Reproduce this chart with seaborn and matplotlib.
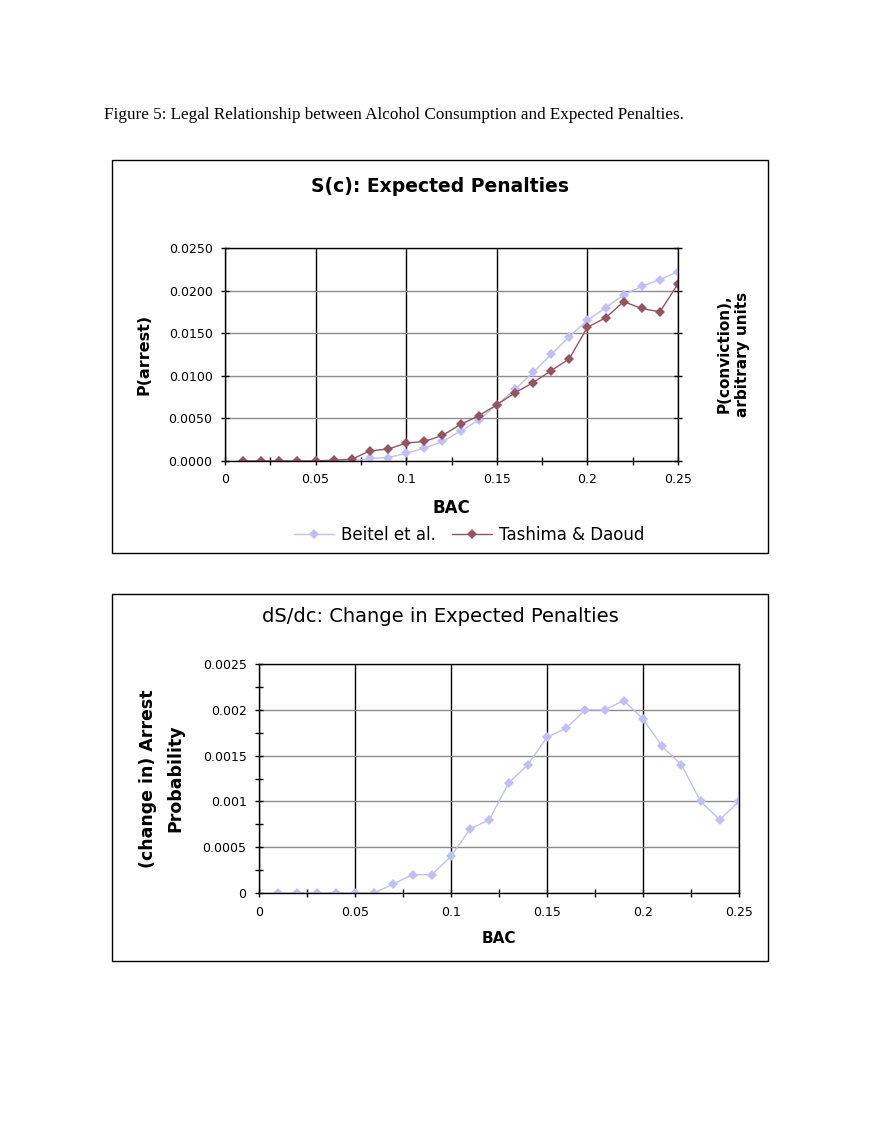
import numpy as np
import pandas as pd
import seaborn as sns
import matplotlib.pyplot as plt
from matplotlib.patches import Rectangle
from matplotlib.ticker import MultipleLocator, FuncFormatter

# blood alcohol levels
bac = [0.01, 0.02, 0.03, 0.04, 0.05, 0.06, 0.07, 0.08, 0.09, 0.10, 0.11, 0.12, 0.13,
       0.14, 0.15, 0.16, 0.17, 0.18, 0.19, 0.20, 0.21, 0.22, 0.23, 0.24, 0.25]

beitel = [0.0, 0.0, 0.0, 0.0, 0.0, 0.0, 0.0, 0.0003, 0.0004, 0.0009, 0.0015, 0.0023, 0.0035,
          0.0048, 0.0066, 0.0084, 0.0104, 0.0125, 0.0146, 0.0165, 0.0180, 0.0195, 0.0205,
          0.0213, 0.0222]
tashima = [0.0, 0.0, 0.0, 0.0, 0.0, 0.0001, 0.0002, 0.0012, 0.0014, 0.0021, 0.0023, 0.0030,
           0.0043, 0.0053, 0.0066, 0.0080, 0.0092, 0.0106, 0.0120, 0.0157, 0.0168, 0.0187,
           0.0179, 0.0175, 0.0208]
dsdc = [0.0, 0.0, 0.0, 0.0, 0.0, 0.0, 0.0001, 0.0002, 0.0002, 0.0004, 0.0007, 0.0008, 0.0012,
        0.0014, 0.0017, 0.0018, 0.0020, 0.0020, 0.0021, 0.0019, 0.0016, 0.0014, 0.0010,
        0.0008, 0.0010]

series_names = ["Beitel et al.", "Tashima & Daoud"]
x_ticks = [0, 0.05, 0.1, 0.15, 0.2, 0.25]

BLUE = "#c0c0f6"
BROWN = "#955560"

sns.set_style("white")
plt.rcParams['font.family'] = ['DejaVu Sans']
for k in ['text.color', 'axes.labelcolor', 'xtick.color', 'ytick.color']:
    plt.rcParams[k] = 'black'

W, H = 880, 1139
fig = plt.figure(figsize=(W / 100, H / 100), dpi=100)


def fx(px):
    return px / W


def fy(py):
    return 1 - py / H


# caption
fig.text(fx(104), fy(115), "Figure 5: Legal Relationship between Alcohol Consumption and Expected Penalties.",
         family=['Liberation Serif', 'DejaVu Serif'], fontsize=12.3, ha='left', va='center')

# chart frames
for top, bot in [(160, 553), (594, 961)]:
    fig.add_artist(Rectangle((fx(112), fy(bot)), fx(768) - fx(112), fy(top) - fy(bot),
                             transform=fig.transFigure, fill=False, edgecolor='black', lw=1.0))


def style_axes(ax, ymax, ymajor, yminor=None, right_ticks=False):
    ax.set_xlim(0, 0.25)
    ax.set_ylim(0, ymax)
    ax.set_xticks(x_ticks)
    ax.xaxis.set_minor_locator(MultipleLocator(0.025))
    ax.yaxis.set_major_locator(MultipleLocator(ymajor))
    if yminor:
        ax.yaxis.set_minor_locator(MultipleLocator(yminor))
    ax.xaxis.set_major_formatter(FuncFormatter(lambda v, p: f"{v:g}"))
    ax.grid(axis='x', which='major', color='black', lw=1.0)
    ax.grid(axis='y', which='major', color='#8c8c8c', lw=1.0)
    ax.set_axisbelow(True)
    for s in ax.spines.values():
        s.set_color('black')
        s.set_linewidth(1.0)
    ax.tick_params(which='both', direction='inout', length=6, width=1, color='black',
                   labelsize=9, pad=6, left=True, bottom=True, right=right_ticks)


# ---------- top chart: S(c) ----------
ax1 = fig.add_axes([fx(225), fy(461), fx(678) - fx(225), fy(248) - fy(461)])
df = pd.DataFrame({
    "BAC": bac * 2,
    "value": beitel + tashima,
    "source": [series_names[0]] * len(bac) + [series_names[1]] * len(bac),
})
sns.lineplot(data=df, x="BAC", y="value", hue="source", style="source",
             palette=[BLUE, BROWN], markers=['D', 'D'], dashes=False,
             markersize=5, markeredgewidth=0, lw=1.0, ax=ax1)
style_axes(ax1, 0.025, 0.005, right_ticks=True)
ax1.yaxis.set_major_formatter(FuncFormatter(lambda v, p: f"{v:.4f}"))
ax1.set_xlabel("BAC", fontsize=12, fontweight='bold', labelpad=9)
ax1.set_ylabel("P(arrest)", fontsize=11.5, fontweight='bold', labelpad=12)
fig.text(fx(440), fy(186), "S(c): Expected Penalties", fontsize=13.5, fontweight='bold',
         ha='center', va='center')
fig.text(fx(733), fy(354), "P(conviction),\narbitrary units", rotation=90, fontsize=11,
         fontweight='bold', ha='center', va='center', linespacing=1.25)
ax1.legend(loc='center', bbox_to_anchor=(fx(469), fy(535)), bbox_transform=fig.transFigure,
           ncol=2, frameon=False, fontsize=12, handlelength=2.4, columnspacing=1.0,
           handletextpad=0.4)

# ---------- bottom chart: dS/dc ----------
ax2 = fig.add_axes([fx(259), fy(893), fx(739) - fx(259), fy(664) - fy(893)])
sns.lineplot(x=bac, y=dsdc, color=BLUE, marker='D', markersize=5, markeredgewidth=0,
             lw=1.0, ax=ax2)
style_axes(ax2, 0.0025, 0.0005, yminor=0.00025)
ax2.yaxis.set_major_formatter(FuncFormatter(lambda v, p: f"{v:g}"))
ax2.set_xlabel("BAC", fontsize=11, fontweight='bold', labelpad=9)
ax2.set_ylabel("(change in) Arrest\nProbability", fontsize=12.5, fontweight='bold',
               labelpad=13, linespacing=1.7)
fig.text(fx(440), fy(617), "dS/dc: Change in Expected Penalties", fontsize=14,
         ha='center', va='center')

fig.savefig("out.png", dpi=100, facecolor='white')
